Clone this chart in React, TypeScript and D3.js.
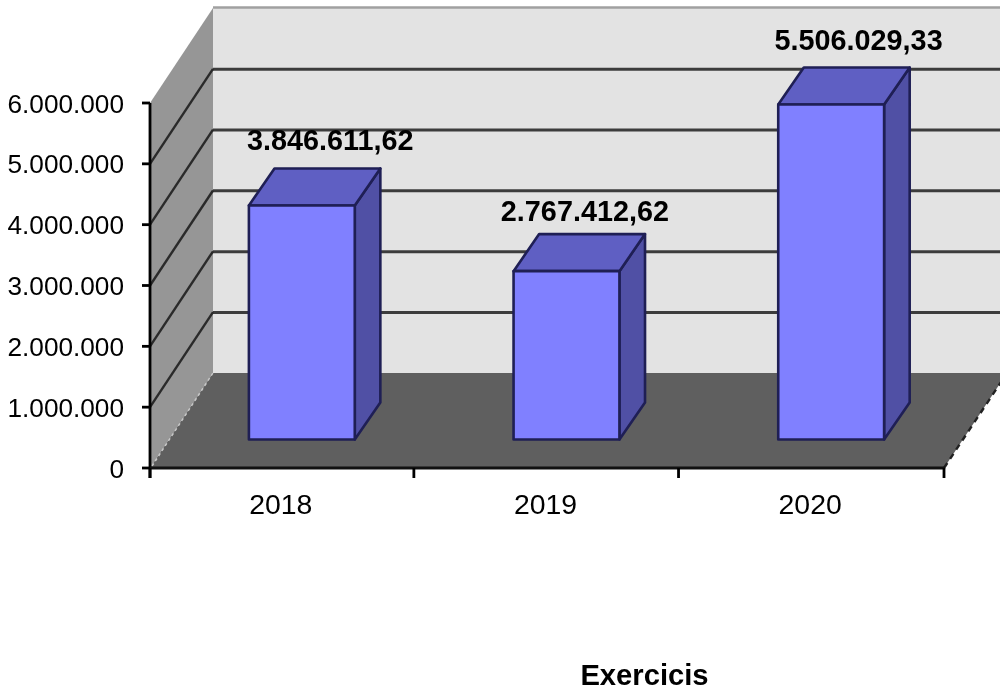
import React from "react";
import * as d3 from "d3";

const years = ["2018", "2019", "2020"];
const values = [3846611.62, 2767412.62, 5506029.33];
const valueLabels = ["3.846.611,62", "2.767.412,62", "5.506.029,33"];
const yTicks = [0, 1000000, 2000000, 3000000, 4000000, 5000000, 6000000];
const axisTitle = "Exercicis";

const W = 1000, H = 693;
const x0 = 150, x1 = 944, yBase = 468, yTop = 103;
const dx = 63, dy = -95; // chart depth projection
const barDepthStart = 0.3, barDepthEnd = 0.69;
const labelShiftX = [10, 0, 9];
const labelShiftY = [0, 5, 1];

const x = d3.scaleBand<string>().domain(years).range([x0, x1]).paddingInner(0).paddingOuter(0);
const y = d3.scaleLinear().domain([0, 6000000]).range([yBase, yTop]);
const fmt = (v: number) => d3.format(",")(v).replace(/,/g, ".");
const pts = (a: [number, number][]) => a.map((p) => p.join(",")).join(" ");
const font = "'Liberation Sans', Arial, sans-serif";

export default function App() {
  const barW = x.bandwidth() * 0.4;
  const wallRight = x1 + dx;
  return (
    <svg width={W} height={H} viewBox={`0 0 ${W} ${H}`} style={{ position: "absolute", left: 0, top: 0, display: "block", background: "#fff", filter: "blur(0.4px)" }}>
      {/* back wall */}
      <polygon points={pts([[x0 + dx, y(6000000) + dy], [wallRight, y(6000000) + dy], [wallRight, yBase + dy], [x0 + dx, yBase + dy]])} fill="#e3e3e3" />
      <line x1={x0 + dx} x2={wallRight} y1={y(6000000) + dy - 0.5} y2={y(6000000) + dy - 0.5} stroke="#a0a0a0" strokeWidth={2.4} />
      {/* side wall */}
      <polygon points={pts([[x0, yTop], [x0 + dx, yTop + dy], [x0 + dx, yBase + dy], [x0, yBase]])} fill="#969696" />
      {/* floor */}
      <polygon points={pts([[x0, yBase], [x1, yBase], [x1 + dx, yBase + dy], [x0 + dx, yBase + dy]])} fill="#5f5f5f" />
      <line x1={x0 + 2} y1={yBase - 2} x2={x0 + dx} y2={yBase + dy} stroke="#c8c8c8" strokeWidth={1.5} strokeDasharray="3 3" />
      <line x1={x1} y1={yBase} x2={x1 + dx} y2={yBase + dy} stroke="#222" strokeWidth={2.4} strokeDasharray="6 5" />
      {/* gridlines */}
      {yTicks.filter((t) => t > 0 && t < 6000000).map((t) => (
        <g key={t} fill="none">
          <line x1={x0 + dx} x2={wallRight} y1={y(t) + dy + 0.3} y2={y(t) + dy + 0.3} stroke="#3c3c3c" strokeWidth={3} />
          <line x1={x0} y1={y(t)} x2={x0 + dx} y2={y(t) + dy} stroke="#2a2a2a" strokeWidth={2.4} />
        </g>
      ))}
      {/* bars */}
      {years.map((yr, i) => {
        const left = x(yr)! + (x.bandwidth() - barW) / 2 + dx * barDepthStart + 0.6;
        const right = left + barW;
        const lift = dy * barDepthStart;
        const top = y(values[i]) + lift;
        const bottom = yBase + lift;
        const ox = dx * (barDepthEnd - barDepthStart) * 0.98 + 1.5;
        const oy = dy * (barDepthEnd - barDepthStart);
        return (
          <g key={yr} stroke="#1f1f55" strokeWidth={2.6} strokeLinejoin="round">
            <polygon points={pts([[right, top], [right + ox, top + oy], [right + ox, bottom + oy], [right, bottom]])} fill="#5050a5" />
            <polygon points={pts([[left, top], [left + ox, top + oy], [right + ox, top + oy], [right, top]])} fill="#5f5fc3" />
            <rect x={left} y={top} width={barW} height={bottom - top} fill="#8080ff" />
            <text x={(left + right) / 2 + ox * 0.72 + labelShiftX[i]} y={top + oy - 18 + labelShiftY[i]} textAnchor="middle" fontFamily={font} fontSize={28.8} fontWeight={700} fill="#000" stroke="none">{valueLabels[i]}</text>
          </g>
        );
      })}
      {/* axes */}
      <line x1={x0} x2={x0} y1={yTop} y2={yBase + 10} stroke="#000" strokeWidth={2.8} />
      <line x1={x0} x2={x1 + 1} y1={yBase} y2={yBase} stroke="#111" strokeWidth={2.8} />
      {yTicks.map((t) => (
        <g key={t}>
          <line x1={x0 - 8} x2={x0} y1={y(t)} y2={y(t)} stroke="#000" strokeWidth={2.8} />
          <text x={x0 - 26} y={y(t) + 9.5} textAnchor="end" fontFamily={font} fontSize={26.2} fill="#000">{fmt(t)}</text>
        </g>
      ))}
      {[...years.map((yr) => x(yr)!), x1].map((p, i) => (
        <line key={i} x1={i === 1 || i === 2 ? p - 0.8 : p} x2={i === 1 || i === 2 ? p - 0.8 : p} y1={yBase} y2={yBase + 10} stroke="#000" strokeWidth={2.8} />
      ))}
      {years.map((yr) => (
        <text key={yr} x={x(yr)! + x.bandwidth() / 2 - 1.5} y={514} textAnchor="middle" fontFamily={font} fontSize={28.4} fill="#000">{yr}</text>
      ))}
      <text x={644.5} y={685} textAnchor="middle" fontFamily={font} fontSize={29.2} fontWeight={700} fill="#000">{axisTitle}</text>
    </svg>
  );
}
